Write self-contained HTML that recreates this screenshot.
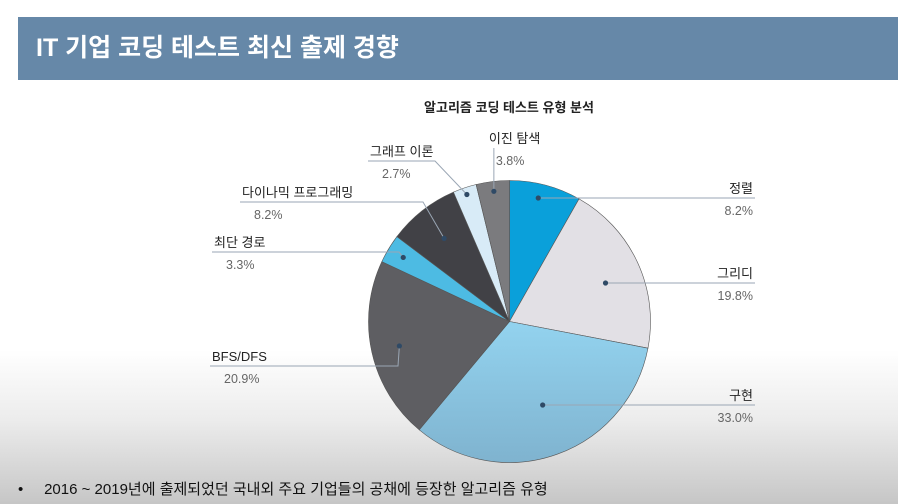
<!DOCTYPE html>
<html><head><meta charset="utf-8">
<style>
body{margin:0;width:898px;height:504px;overflow:hidden;font-family:"Liberation Sans","Noto Sans CJK KR",sans-serif;
background:linear-gradient(to bottom,#fff 0,#fff 350px,#ececec 420px,#c6c6c6 504px);position:relative}
#hdr{position:absolute;left:18px;top:17px;width:880px;height:63px;background:#6688a8;color:#fff;font-size:25px;font-weight:bold;line-height:63px;padding-left:18px;box-sizing:border-box}
#foot{position:absolute;left:18px;top:478px;font-size:15px;color:#111}
svg{position:absolute;left:0;top:0}
</style></head><body>
<div id="hdr">IT 기업 코딩 테스트 최신 출제 경향</div>
<div id="foot">•&nbsp;&nbsp;&nbsp;&nbsp;&nbsp;2016 ~ 2019년에 출제되었던 국내외 주요 기업들의 공채에 등장한 알고리즘 유형</div>
<svg id="chart" width="898" height="504">
<defs>
<linearGradient id="gImpl" x1="0" y1="0" x2="0" y2="1"><stop offset="0" stop-color="#93d3ef"/><stop offset="1" stop-color="#7fb3cf"/></linearGradient>
</defs>
<text x="509" y="112" text-anchor="middle" font-size="13" font-weight="bold" fill="#222">알고리즘 코딩 테스트 유형 분석</text>
</svg>
<script>
const categories=["정렬","그리디","구현","BFS/DFS","최단 경로","다이나믹 프로그래밍","그래프 이론","이진 탐색"];
const values=[8.2,19.8,33.0,20.9,3.3,8.2,2.7,3.8];
const labels=["8.2%","19.8%","33.0%","20.9%","3.3%","8.2%","2.7%","3.8%"];
const colors=["#0aa0da","#e2e0e5","url(#gImpl)","#5e5e62","#4dbbe3","#414146","#d8ebf7","#7b7b7e"];
const lab=[[540,198,755,"r",0.8],[618,283,755,"r",0.75],[585,405,755,"r",0.7],[210,366,398,"l",0.8],[212,252,399,"l",0.88],[240,202,423,"l",0.75],[368,161,435,"l",0.95],[493,148,493,"t",0.93]];
const svg=document.getElementById('chart');const NS="http://www.w3.org/2000/svg";
const cx=509.5,cy=321.5,R=141;
const total=values.reduce((a,b)=>a+b,0);
function pt(a,r){return [cx+r*Math.sin(a),cy-r*Math.cos(a)];}
let a0=0;
values.forEach((v,i)=>{
 const a1=a0+v/total*2*Math.PI;
 const p0=pt(a0,R),p1=pt(a1,R);
 const p=document.createElementNS(NS,'path');
 p.setAttribute('d',`M${cx},${cy}L${p0[0]},${p0[1]}A${R},${R} 0 ${a1-a0>Math.PI?1:0} 1 ${p1[0]},${p1[1]}Z`);
 p.setAttribute('fill',colors[i]);p.setAttribute('stroke','#555');p.setAttribute('stroke-width','0.6');
 
 
 svg.appendChild(p);
 const am=(a0+a1)/2;const d=pt(am,R*lab[i][4]);
 const L=lab[i];
 let pts;
 if(L[3]==="r"){d[1]=L[1];pts=`${d[0]},${L[1]} ${L[2]},${L[1]}`;}
 else if(L[3]==="l")pts=`${L[0]},${L[1]} ${L[2]},${L[1]} ${d[0]},${d[1]}`;
 else pts=`${d[0]},${L[1]} ${d[0]},${d[1]}`;
 const pl=document.createElementNS(NS,'polyline');
 pl.setAttribute('points',pts);pl.setAttribute('fill','none');pl.setAttribute('stroke','#9aa6b4');pl.setAttribute('stroke-width','1');
 
 
 svg.appendChild(pl);
 const c=document.createElementNS(NS,'circle');c.setAttribute('cx',d[0]);c.setAttribute('cy',d[1]);c.setAttribute('r','2.6');c.setAttribute('fill','#2f4a66');
 
 
 svg.appendChild(c);
 let tx,anchor;
 if(L[3]==="r"){tx=L[2]-2;anchor="end";}
 else if(L[3]==="l"){tx=L[0]+2;anchor="start";}
 else {tx=d[0]-5;anchor="start";}
 const ty=L[1];
 const t1=document.createElementNS(NS,'text');t1.textContent=categories[i];
 t1.setAttribute('x',tx);t1.setAttribute('y',ty-5);t1.setAttribute('text-anchor',anchor);t1.setAttribute('font-size','13');t1.setAttribute('fill','#222');
 
 
 svg.appendChild(t1);
 const t2=document.createElementNS(NS,'text');t2.textContent=labels[i];
 const px=L[3]==="l"?tx+12:(L[3]==="t"?tx+7:tx);
 t2.setAttribute('x',px);t2.setAttribute('y',ty+17);t2.setAttribute('text-anchor',anchor);t2.setAttribute('font-size','12.5');t2.setAttribute('fill','#666');
 
 
 svg.appendChild(t2);
 a0=a1;
});
</script>
</body></html>
